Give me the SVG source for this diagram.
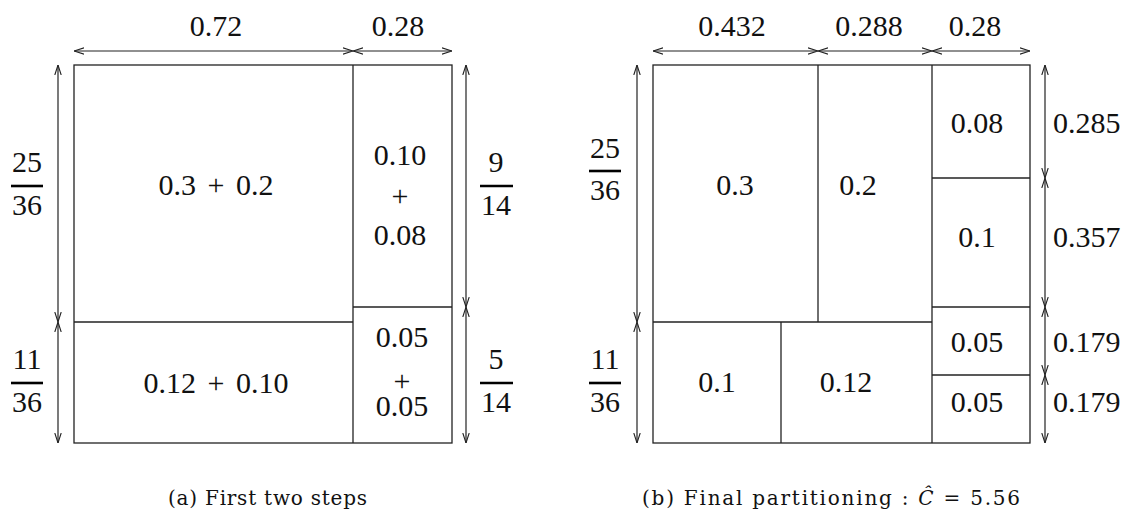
<svg xmlns="http://www.w3.org/2000/svg" width="1126" height="513" viewBox="0 0 1126 513">
<defs>
<marker id="ah" viewBox="0 0 10 8" refX="10" refY="4" markerWidth="10" markerHeight="8" markerUnits="userSpaceOnUse" orient="auto-start-reverse">
<path d="M0,0.8 L10,4 L0,7.2" fill="none" stroke="#222" stroke-width="1.1"/>
</marker>
</defs>
<style>
.box{fill:none;stroke:#222;stroke-width:1.3}
.ln{stroke:#222;stroke-width:1.3;fill:none}
.ar{stroke:#222;stroke-width:1.2;fill:none;marker-start:url(#ah);marker-end:url(#ah)}
.fl{stroke:#000;stroke-width:2.6}
text{font-family:"Liberation Serif","DejaVu Serif",serif;font-size:30px;fill:#111}
.m{text-anchor:middle}
.ws{word-spacing:4px}
.cap{font-family:"DejaVu Serif","Liberation Serif",serif;font-size:20px}
</style>
<rect width="1126" height="513" fill="#fff"/>

<g id="panel-a">
<rect class="box" x="74" y="65" width="378" height="378"/>
<line class="ln" x1="353" y1="65" x2="353" y2="443"/>
<line class="ln" x1="74" y1="322" x2="353" y2="322"/>
<line class="ln" x1="353" y1="307" x2="452" y2="307"/>
</g>
<g id="a-cell-big"><text class="m ws" x="216" y="195">0.3 + 0.2</text></g>
<g id="a-cell-bottom"><text class="m ws" x="216" y="393">0.12 + 0.10</text></g>
<g id="a-cell-right-top">
<text class="m" x="400" y="165">0.10</text>
<text class="m" x="400" y="206">+</text>
<text class="m" x="400" y="245">0.08</text>
</g>
<g id="a-cell-right-bottom">
<text class="m" x="402" y="347">0.05</text>
<text class="m" x="402" y="391">+</text>
<text class="m" x="402" y="416">0.05</text>
</g>

<g id="panel-b">
<rect class="box" x="653" y="65" width="377" height="378"/>
<line class="ln" x1="932" y1="65" x2="932" y2="443"/>
<line class="ln" x1="818" y1="65" x2="818" y2="322"/>
<line class="ln" x1="653" y1="322" x2="932" y2="322"/>
<line class="ln" x1="781" y1="322" x2="781" y2="443"/>
<line class="ln" x1="932" y1="178" x2="1030" y2="178"/>
<line class="ln" x1="932" y1="307" x2="1030" y2="307"/>
<line class="ln" x1="932" y1="375" x2="1030" y2="375"/>
</g>
<g id="b-cell-03"><text class="m" x="735" y="195">0.3</text></g>
<g id="b-cell-02"><text class="m" x="858" y="195">0.2</text></g>
<g id="b-cell-01"><text class="m" x="717" y="392">0.1</text></g>
<g id="b-cell-012"><text class="m" x="846" y="392">0.12</text></g>
<g id="b-cell-008"><text class="m" x="977" y="133">0.08</text></g>
<g id="b-cell-01r"><text class="m" x="977" y="247">0.1</text></g>
<g id="b-cell-005a"><text class="m" x="977" y="352">0.05</text></g>
<g id="b-cell-005b"><text class="m" x="977" y="412">0.05</text></g>

<g id="connectors">
<line class="ar" x1="74" y1="51" x2="353" y2="51"/>
<line class="ar" x1="353" y1="51" x2="452" y2="51"/>
<line class="ar" x1="58" y1="65" x2="58" y2="322"/>
<line class="ar" x1="58" y1="322" x2="58" y2="443"/>
<line class="ar" x1="466" y1="65" x2="466" y2="307"/>
<line class="ar" x1="466" y1="307" x2="466" y2="443"/>
<line class="ar" x1="653" y1="51" x2="818" y2="51"/>
<line class="ar" x1="818" y1="51" x2="932" y2="51"/>
<line class="ar" x1="932" y1="51" x2="1030" y2="51"/>
<line class="ar" x1="637" y1="65" x2="637" y2="322"/>
<line class="ar" x1="637" y1="322" x2="637" y2="443"/>
<line class="ar" x1="1045" y1="65" x2="1045" y2="178"/>
<line class="ar" x1="1045" y1="178" x2="1045" y2="307"/>
<line class="ar" x1="1045" y1="307" x2="1045" y2="375"/>
<line class="ar" x1="1045" y1="375" x2="1045" y2="443"/>
</g>

<g id="labels-a">
<text class="m" x="216" y="36">0.72</text>
<text class="m" x="398" y="36">0.28</text>
<text class="m" x="27" y="172">25</text>
<line class="fl" x1="11" y1="186" x2="43" y2="186"/>
<text class="m" x="27" y="215">36</text>
<text class="m" x="27" y="369">11</text>
<line class="fl" x1="11" y1="383" x2="43" y2="383"/>
<text class="m" x="27" y="412">36</text>
<text class="m" x="496" y="172">9</text>
<line class="fl" x1="480" y1="186" x2="513" y2="186"/>
<text class="m" x="496" y="215">14</text>
<text class="m" x="496" y="369">5</text>
<line class="fl" x1="480" y1="383" x2="513" y2="383"/>
<text class="m" x="496" y="412">14</text>
</g>

<g id="labels-b">
<text class="m" x="732" y="36">0.432</text>
<text class="m" x="869" y="36">0.288</text>
<text class="m" x="975" y="36">0.28</text>
<text class="m" x="605" y="158">25</text>
<line class="fl" x1="589" y1="171" x2="621" y2="171"/>
<text class="m" x="605" y="200">36</text>
<text class="m" x="605" y="369">11</text>
<line class="fl" x1="589" y1="383" x2="621" y2="383"/>
<text class="m" x="605" y="412">36</text>
<text x="1053" y="133">0.285</text>
<text x="1053" y="247">0.357</text>
<text x="1053" y="352">0.179</text>
<text x="1053" y="412">0.179</text>
</g>

<g id="captions">
<text class="cap" x="168" y="505" textLength="199" lengthAdjust="spacing">(a) First two steps</text>
<text class="cap" x="642" y="505" textLength="378" lengthAdjust="spacing">(b) Final partitioning : <tspan font-style="italic">Ĉ</tspan> = 5.56</text>
</g>
</svg>
